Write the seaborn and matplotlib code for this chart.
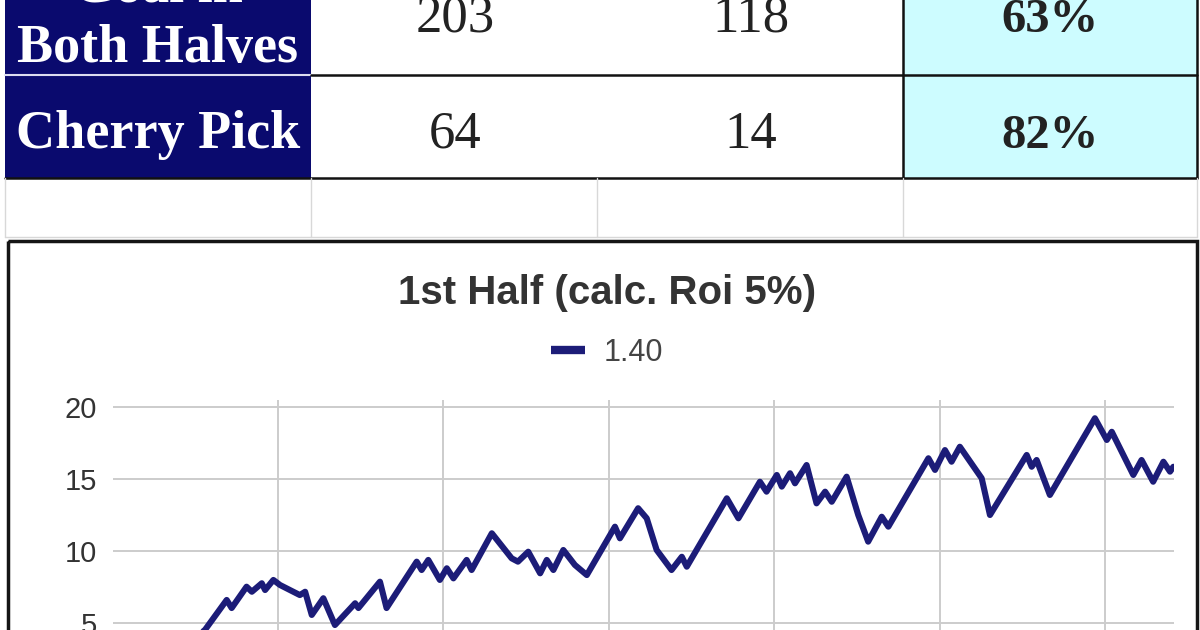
import matplotlib
matplotlib.use("Agg")
import matplotlib.pyplot as plt
from matplotlib.patches import Rectangle
import seaborn as sns
import pandas as pd

# table rows visible at the top of the screenshot
label_lines = [["Goal in", "Both Halves"], ["Cherry Pick"]]
col_a = ["203", "64"]
col_b = ["118", "14"]
col_pct = ["63%", "82%"]

# running profit for odds 1.40 (bet number, units)
bets = [0, 27.9, 34.5, 36.0, 40.5, 42.1, 45.1, 46.1, 48.6, 50.6, 53.6, 56.6,
        58.2, 60.2, 63.7, 67.2, 73.3, 74.3, 80.8, 82.8, 91.9, 93.4, 95.4,
        98.9, 101.0, 103.0, 107.0, 108.5, 114.6, 120.6, 122.5, 125.6, 129.2,
        131.2, 133.2, 136.2, 139.7, 143.3, 151.8, 153.3, 158.8, 161.4, 164.4,
        168.9, 172.0, 173.5, 185.6, 189.1, 195.6, 197.6, 200.7, 202.2, 204.7,
        206.2, 209.7, 212.7, 215.3, 217.3, 221.8, 225.3, 228.3, 232.4, 234.4,
        246.5, 248.5, 251.5, 253.5, 256.0, 262.6, 265.1, 276.2, 277.7, 279.2,
        283.2, 296.8, 300.4, 301.9, 308.4, 310.9, 314.4, 317.5, 319.5, 320.5]
profit = [0, 4.51, 6.60, 6.04, 7.52, 7.17, 7.76, 7.29, 7.99, 7.64, 7.29, 6.94,
          7.17, 5.56, 6.72, 4.86, 6.37, 6.04, 7.87, 6.04, 9.26, 8.68, 9.38,
          7.99, 8.80, 8.10, 9.38, 8.68, 11.23, 9.49, 9.26, 9.95, 8.45,
          9.38, 8.68, 10.07, 9.03, 8.33, 11.69, 10.88, 12.97, 12.27, 10.07,
          8.68, 9.60, 8.91, 13.66, 12.27, 14.81, 14.12, 15.28, 14.47, 15.40,
          14.70, 15.97, 13.31, 14.12, 13.42, 15.16, 12.50, 10.65, 12.38, 11.69,
          16.44, 15.63, 17.01, 16.20, 17.24, 15.05, 12.50, 16.67, 15.85, 16.32,
          13.89, 19.22, 17.71, 18.28, 15.28, 16.32, 14.81, 16.20, 15.51, 15.85]
series_name = "1.40"
chart_title = "1st Half (calc. Roi 5%)"
y_ticks = [5, 10, 15, 20]
x_grid = [50, 100, 150, 200, 250, 300]

NAVY = "#0a0a6e"
CYAN = "#cdfcff"
LINE = "#1c1c78"

sns.set_style("whitegrid")
plt.rcParams['font.family'] = ['Liberation Sans', 'DejaVu Sans']

W, H = 1200, 630
fig = plt.figure(figsize=(12, 6.3), dpi=100)
fig.patch.set_facecolor("white")

# background layer in pixel units for the table and the chart frame
bg = fig.add_axes([0, 0, 1, 1])
bg.set_xlim(0, W)
bg.set_ylim(H, 0)
bg.axis("off")

bg.add_patch(Rectangle((5, -20), 306, 198, color=NAVY, lw=0))
bg.add_patch(Rectangle((903, -20), 294, 198, color=CYAN, lw=0))
bg.plot([5, 311], [75, 75], color="#dcdcf0", lw=1.5)
bg.plot([311, 1197], [75, 75], color="#111111", lw=1.8)
bg.plot([5, 1197], [178, 178], color="#111111", lw=1.8)
for xv in [903, 1197]:
    bg.plot([xv, xv], [-20, 178], color="#111111", lw=1.8)
for xv in [5, 311, 597, 903, 1197]:
    bg.plot([xv, xv], [178, 237], color="#d8d8d8", lw=1)
bg.plot([5, 1197], [237, 237], color="#d8d8d8", lw=1)

serif = ["Liberation Serif", "DejaVu Serif"]
label_baselines = [[1, 62], [148]]
for lines, ys in zip(label_lines, label_baselines):
    for txt, yb in zip(lines, ys):
        bg.text(158, yb, txt, ha="center", va="baseline", fontsize=39,
                fontweight="bold", color="white", family=serif)

row_baselines = [32, 148]
for i, yb in enumerate(row_baselines):
    bg.text(455, yb, col_a[i], ha="center", va="baseline", fontsize=38,
            color="#222222", family=serif)
    bg.text(751, yb, col_b[i], ha="center", va="baseline", fontsize=38,
            color="#222222", family=serif)
    bg.text(1050, yb, col_pct[i], ha="center", va="baseline", fontsize=35,
            fontweight="bold", color="#222222", family=serif)

# chart frame and title
bg.add_patch(Rectangle((8, 241), 1189, 500, fill=False, edgecolor="#151515", lw=2.5))
bg.text(607, 293, chart_title, ha="center", va="center", fontsize=29,
        fontweight="bold", color="#333333")

# line chart area (lower part is cropped off the screenshot)
y_lo, y_hi = -5, 20.5
px_per_unit = 14.4
top_px = 407 - (y_hi - 20) * px_per_unit
bottom_px = 407 + (20 - y_lo) * px_per_unit
left_px, right_px = 112.5, 1174
ax = fig.add_axes([left_px / W, (H - bottom_px) / H,
                   (right_px - left_px) / W, (bottom_px - top_px) / H])
ax.set_facecolor("white")

df = pd.DataFrame({"bet": bets, "profit": profit})
sns.lineplot(data=df, x="bet", y="profit", color=LINE, linewidth=4.4,
             label=series_name, ax=ax)

ax.set_xlim(0, 320.7)
ax.set_ylim(y_lo, y_hi)
ax.set_xticks(x_grid)
ax.set_xticklabels([])
ax.set_yticks(y_ticks)
ax.set_yticklabels([str(v) for v in y_ticks])
ax.tick_params(axis="both", length=0)
ax.tick_params(axis="y", labelsize=21, labelcolor="#333333", pad=11)
ax.grid(True, color="#cccccc", linewidth=1.4)
ax.set_xlabel("")
ax.set_ylabel("")
for s in ax.spines.values():
    s.set_visible(False)

leg = ax.legend(loc="center", bbox_to_anchor=(607 / W, 1 - 353 / H),
                bbox_transform=fig.transFigure, frameon=False, fontsize=22,
                handlelength=1.1, handletextpad=0.6, labelcolor="#444444")
for h in leg.legend_handles:
    h.set_linewidth(6)
    h.set_solid_capstyle("butt")

fig.savefig("out.png", dpi=100)
